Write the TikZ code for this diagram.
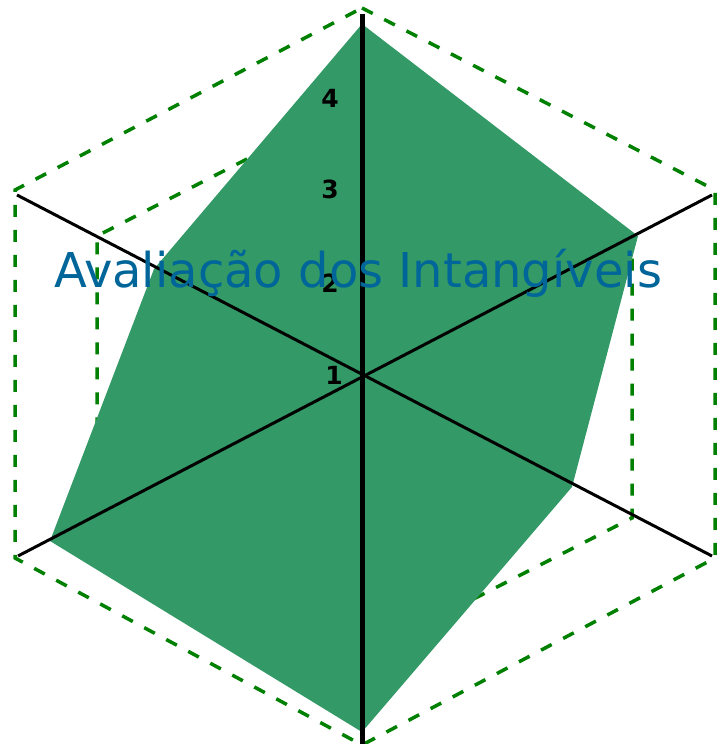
\documentclass[tikz,border=0pt]{standalone}
\usepackage{fontspec}
\setmainfont{DejaVu Sans}
\definecolor{areagreen}{HTML}{339966}
\definecolor{ringgreen}{HTML}{008000}
\definecolor{titleblue}{HTML}{006699}
\begin{document}
\begin{tikzpicture}[x=1pt,y=-1pt,
  ring/.style={draw=ringgreen, line width=3.5pt, dash pattern=on 12pt off 13pt},
  axisline/.style={draw=black, line width=3pt},
  mainaxis/.style={draw=black, line width=5pt},
  area/.style={fill=areagreen},
  ticklabel/.style={font=\bfseries\fontsize{25}{25}\selectfont, text=black, inner sep=0pt},
  titletext/.style={font=\fontsize{48}{48}\selectfont, text=titleblue, inner sep=0pt, anchor=base}]
\useasboundingbox (0,0) rectangle (727,744);
% rings
\coordinate (o1) at (362,8);
\coordinate (o2) at (715,190);
\coordinate (o3) at (715,558);
\coordinate (o4) at (362,745);
\coordinate (o5) at (15,558);
\coordinate (o6) at (15,190);
\coordinate (i1) at (362,100);
\coordinate (i2) at (632,236);
\coordinate (i3) at (632,518);
\coordinate (i4) at (362,656);
\coordinate (i5) at (97,518);
\coordinate (i6) at (97,236);
\draw[ring] (o1) -- (o2) -- (o3) -- (o4) -- (o5) -- (o6) -- cycle;
\draw[ring] (i1) -- (i2) -- (i3) -- (i4) -- (i5) -- (i6) -- cycle;
% data area
\coordinate (g1) at (362,24);
\coordinate (g2) at (638,236);
\coordinate (g3) at (572,487);
\coordinate (g4) at (362,732);
\coordinate (g5) at (50,541);
\coordinate (g6) at (154,269);
\fill[area] (g1) -- (g2) -- (g3) -- (g4) -- (g5) -- (g6) -- cycle;
% axes
\coordinate (at) at (362,14);
\coordinate (ab) at (362,744);
\coordinate (aul) at (17,195);
\coordinate (alr) at (712,556);
\coordinate (all) at (18,556);
\coordinate (aur) at (712,195);
\draw[axisline] (aul) -- (alr);
\draw[axisline] (all) -- (aur);
\draw[mainaxis] (at) -- (ab);
% tick labels
\node[ticklabel] (t4) at (330,98) {4};
\node[ticklabel] (t3) at (330,189) {3};
\node[ticklabel] (t2) at (330,283) {2};
\node[ticklabel] (t1) at (334,375) {1};
% title
\node[titletext] (title) at (358,287) {Avaliação dos Intangíveis};
\end{tikzpicture}
\end{document}
